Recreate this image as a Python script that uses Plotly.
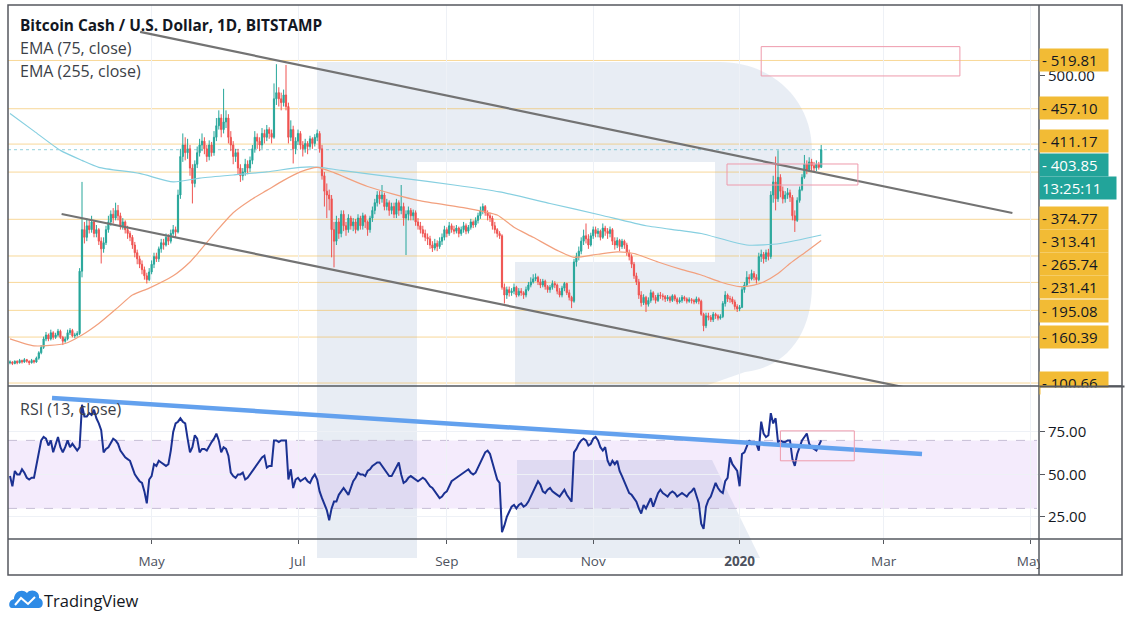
import pandas as pd
import plotly.graph_objects as go

FONT = "Open Sans"
GREEN = "#26a69a"
RED = "#ef5350"
YELLOW = "#f2bb35"

# ---------------- data ----------------
start_date = "2019-03-03"
first_open = 127.0
closes = [
    128,126,129,127,130,128,131,129,127,130,
    128,133,140,147,158,163,158,166,160,163,
    168,160,155,158,166,169,162,163,165,246,
    300,290,305,300,310,295,300,285,275,283,
    300,310,320,315,325,318,305,310,300,295,
    290,280,270,262,255,248,240,235,245,255,
    265,262,275,283,280,290,285,295,300,297,
    345,395,410,400,405,380,360,385,400,410,
    415,405,395,410,400,420,435,445,430,440,
    445,420,410,395,400,380,370,375,385,380,
    390,405,420,415,410,425,420,430,425,420,
    470,478,470,465,475,460,420,430,405,415,
    425,410,405,412,408,418,412,420,425,405,
    370,350,345,340,300,285,310,295,320,305,
    300,315,305,310,300,315,305,318,310,300,
    315,325,335,345,340,345,330,335,325,330,
    320,335,325,330,315,320,325,318,322,310,
    305,300,295,290,288,280,276,282,278,285,
    290,300,295,305,300,298,302,295,300,305,
    298,303,310,306,312,318,325,330,322,318,
    315,305,300,295,292,225,215,222,218,220,
    225,215,220,218,215,222,228,232,236,238,
    232,228,233,226,222,225,230,228,220,215,
    224,230,218,212,207,258,265,272,285,292,
    288,280,292,300,295,298,290,302,298,295,
    300,285,280,286,278,285,280,270,265,255,
    240,232,215,205,212,203,208,218,212,208,
    215,214,213,210,212,208,214,210,206,208,
    212,210,207,209,208,206,210,207,190,175,
    188,186,183,190,188,185,187,204,215,210,
    210,206,200,197,199,222,228,238,236,243,
    238,235,265,268,262,270,265,345,362,340,
    368,350,340,345,348,342,318,312,338,352,
    368,385,378,388,383,380,385,381,403.85,
]
highs = [
    130,129,130,130,132,131,133,132,130,132,
    131,135,142,150,161,167,165,170,168,166,
    171,170,162,161,170,172,171,166,168,250,
    362,310,315,312,318,312,306,302,290,290,
    305,318,325,328,335,332,322,315,312,305,
    298,293,284,274,266,260,252,244,250,260,
    270,270,278,288,288,295,294,300,306,304,
    352,405,425,420,418,410,385,390,408,418,
    425,420,410,416,414,428,445,455,450,483,
    455,450,428,415,405,405,385,380,392,390,
    395,410,428,425,420,432,430,436,433,430,
    490,515,485,478,482,514,465,442,435,420,
    430,428,415,418,415,422,420,424,430,428,
    410,375,360,352,345,310,318,315,325,325,
    310,320,318,315,314,320,318,322,320,312,
    318,330,340,350,350,358,348,340,338,335,
    335,340,338,358,335,325,330,328,326,325,
    315,310,305,300,295,292,285,288,286,290,
    295,305,303,310,308,305,306,304,304,310,
    308,306,314,312,316,322,330,334,332,325,
    322,318,310,302,298,294,230,226,226,224,
    230,227,224,224,220,226,232,238,242,243,
    240,236,236,235,228,228,234,233,230,224,
    227,232,231,222,214,262,270,278,290,300,
    308,294,296,304,304,302,300,308,305,302,
    304,302,290,290,288,288,287,283,274,268,
    258,244,236,220,216,214,212,222,220,215,
    218,219,217,215,215,214,216,216,212,212,
    215,214,212,212,211,210,213,212,209,192,
    192,192,189,193,192,190,190,207,220,217,
    214,213,209,203,202,226,232,246,242,248,
    246,242,270,274,271,274,275,350,370,395,
    403,372,356,350,354,352,345,325,342,356,
    372,397,390,394,392,388,390,388,410,
]
lows = [
    125,124,125,125,126,126,127,127,124,126,
    126,127,131,138,145,155,155,156,157,158,
    161,158,150,153,156,163,160,159,161,163,
    238,282,285,295,296,290,290,280,256,270,
    280,296,305,308,312,312,300,300,295,288,
    285,275,264,255,250,242,235,230,233,242,
    250,258,258,270,274,278,280,282,292,290,
    295,340,388,390,392,370,334,355,380,395,
    402,398,388,390,395,396,415,430,420,425,
    432,412,402,385,388,372,362,364,370,372,
    375,385,400,405,402,405,412,415,418,412,
    418,462,460,455,460,455,412,415,386,398,
    410,404,395,400,398,405,405,408,415,400,
    365,330,315,325,264,251,280,288,290,298,
    292,296,300,298,295,298,300,300,302,292,
    296,310,320,330,333,335,325,325,318,320,
    315,315,318,320,305,267,312,312,312,305,
    300,295,290,285,280,275,271,273,272,275,
    280,286,290,292,296,294,295,290,292,296,
    294,295,300,302,303,308,314,320,318,312,
    310,300,295,290,288,222,204,210,213,214,
    216,212,213,214,210,212,220,225,230,233,
    228,224,225,222,218,218,222,224,216,212,
    212,220,215,208,198,205,252,260,268,280,
    282,275,278,288,290,290,286,288,292,288,
    290,280,274,276,272,275,275,266,260,250,
    236,228,210,200,202,193,200,205,208,204,
    206,210,208,206,207,205,206,207,203,204,
    205,207,204,205,204,203,204,203,188,168,
    172,182,180,180,184,182,183,185,200,206,
    205,203,196,193,194,198,218,226,230,234,
    234,230,233,258,256,258,260,262,335,325,
    336,342,334,335,340,336,312,297,310,335,
    350,366,372,375,375,376,376,378,380,
]
rsi_values = [
    49,43,52,50,50,53,51,48,47,48,
    48,55,64,70,72,71,67,70,63,67,
    72,66,63,66,70,66,68,66,64,66,
    91,84,84,86,85,88,83,80,76,63,
    65,66,69,71,70,68,64,62,60,59,
    58,54,50,48,46,45,40,33,47,49,
    56,55,58,57,56,55,56,64,75,80,
    81,83,81,80,71,63,66,73,71,63,
    65,65,64,67,69,71,74,70,63,66,
    65,61,51,49,48,50,50,51,47,48,
    50,52,54,56,58,60,61,54,55,55,
    70,70,69,70,70,70,47,53,42,47,
    48,46,47,48,46,45,48,50,47,40,
    36,32,29,23,30,34,34,38,40,42,
    40,38,42,46,48,51,50,50,49,52,
    53,55,56,57,57,55,53,51,49,49,
    52,55,57,50,45,46,48,49,48,47,
    46,47,48,47,45,43,42,40,38,36,
    37,39,40,43,46,47,48,49,50,51,
    52,53,51,50,51,54,57,60,63,64,
    62,57,52,47,45,16,20,25,28,31,
    32,30,32,33,31,32,34,37,40,42,
    46,44,40,39,41,42,40,39,38,37,
    39,41,38,36,34,63,65,68,70,71,
    70,67,68,71,72,70,66,64,66,58,
    55,58,56,58,52,49,46,42,39,38,
    36,34,30,27,32,30,33,36,31,35,
    39,41,39,38,37,39,40,39,37,38,
    39,38,37,39,40,42,38,33,21,18,
    31,35,37,41,45,42,40,39,46,48,
    60,56,54,52,43,62,63,66,70,68,
    69,68,64,81,74,72,73,86,80,83,
    69,70,69,69,70,70,59,55,62,66,
    70,72,74,68,66,65,64,67,70,
]
assert len(closes) == len(highs) == len(lows) == len(rsi_values)

ema75_dates = ["2019-03-03","2019-03-13","2019-03-26","2019-04-02","2019-04-09","2019-04-17",
               "2019-04-23","2019-04-30","2019-05-10","2019-05-17","2019-05-21","2019-05-28",
               "2019-06-04","2019-06-11","2019-06-18","2019-06-25","2019-07-02","2019-07-09",
               "2019-07-16","2019-07-30","2019-08-20","2019-09-09","2019-09-22","2019-09-29",
               "2019-10-07","2019-10-17","2019-10-24","2019-11-03","2019-11-11","2019-11-18",
               "2019-11-28","2019-12-08","2019-12-16","2019-12-24","2020-01-01","2020-01-07",
               "2020-01-11","2020-01-17","2020-01-22","2020-01-29","2020-02-04"]
ema75_values = [158,149,152,163,178,199,215,224,240,258,272,298,322,338,351,364,375,381,
                374,356,338,328,319,303,290,273,264,268,271,269,258,248,241,232,226,228,
                232,243,256,272,286]
ema255_dates = ["2019-03-03","2019-03-13","2019-03-24","2019-04-02","2019-04-09","2019-04-26",
                "2019-05-10","2019-05-21","2019-06-04","2019-06-18","2019-07-02","2019-07-10",
                "2019-07-19","2019-08-13","2019-09-04","2019-09-23","2019-10-14","2019-11-04",
                "2019-11-23","2019-12-07","2019-12-16","2020-01-04","2020-01-18","2020-02-04"]
ema255_values = [451,428,403,390,381,373,362,367,371,375,381,381,377,367,358,349,334,319,
                 305,299,295,280,282,293]

level_values = [519.81, 457.10, 411.17, 374.77, 313.41, 265.74, 231.41, 195.08, 160.39, 100.66]
level_label_shift = [0, 1, 3, -46, -22, -8, -5, -1, 0, 0]
last_price = 403.85
countdown = "13:25:11"

upper_channel_dates = ["2019-04-26 05:00", "2020-04-23 16:00"]
upper_channel_prices = [557.0, 321.6]
lower_channel_dates = ["2019-03-24 12:00", "2020-03-21 05:00"]
lower_channel_prices = [320.3, 87.7]
rsi_trend_dates = ["2019-03-20 12:00", "2020-03-17 00:00"]
rsi_trend_values = [95.0, 62.0]

zone_x0 = ["2020-01-10", "2019-12-26 18:00"]
zone_x1 = ["2020-04-01 19:00", "2020-02-19 07:00"]
zone_y0 = [499.7, 358.0]
zone_y1 = [537.8, 385.3]
rsi_zone = ["2020-01-18", "2020-02-17 19:00", 58.0, 75.6]

x_tickvals = ["2019-05-01","2019-07-01","2019-09-01","2019-11-01","2020-01-01","2020-03-01","2020-05-01"]
x_ticktext = ["May","Jul","Sep","Nov","<b>2020</b>","Mar","May"]
x_range = ["2019-03-02 04:00", "2020-05-04 18:00"]

dates = pd.date_range(start_date, periods=len(closes), freq="D")
opens = [first_open] + closes[:-1]

# ---------------- geometry helpers (pixel -> paper) ----------------
W, H = 1131, 623
PL, PR, PT, PB = 8, 1039, 5, 539
SPLIT = 386
def fx(x): return (x - PL) / (PR - PL)
def fy(y): return (PB - y) / (PB - PT)
def path(points):
    s = ""
    for cmd, pts in points:
        s += cmd + " " + " ".join(f"{fx(a):.5f},{fy(b):.5f}" for a, b in pts) + " "
    return s + "Z"

fig = go.Figure()

fig.add_trace(go.Candlestick(
    x=dates, open=opens, high=highs, low=lows, close=closes,
    increasing=dict(line=dict(color=GREEN, width=1), fillcolor=GREEN),
    decreasing=dict(line=dict(color=RED, width=1), fillcolor=RED),
    whiskerwidth=0, xaxis="x", yaxis="y", showlegend=False, hoverinfo="skip"))
fig.add_trace(go.Scatter(x=ema255_dates, y=ema255_values, mode="lines",
    line=dict(color="#86cfe0", width=1.2, shape="spline", smoothing=0.6),
    xaxis="x", yaxis="y", showlegend=False, hoverinfo="skip"))
fig.add_trace(go.Scatter(x=ema75_dates, y=ema75_values, mode="lines",
    line=dict(color="#f2a07e", width=1.2, shape="spline", smoothing=0.6),
    xaxis="x", yaxis="y", showlegend=False, hoverinfo="skip"))
for dx, dy in ((upper_channel_dates, upper_channel_prices), (lower_channel_dates, lower_channel_prices)):
    fig.add_trace(go.Scatter(x=dx, y=dy, mode="lines", line=dict(color="#737373", width=2.2),
                             xaxis="x", yaxis="y", showlegend=False, hoverinfo="skip"))

fig.add_trace(go.Scatter(x=dates, y=rsi_values, mode="lines",
    line=dict(color="#1b3192", width=2), xaxis="x2", yaxis="y2",
    showlegend=False, hoverinfo="skip"))
fig.add_trace(go.Scatter(x=rsi_trend_dates, y=rsi_trend_values, mode="lines",
    line=dict(color="#63a1ee", width=4.5), xaxis="x2", yaxis="y2",
    showlegend=False, hoverinfo="skip"))

shapes = []
# watermark "R"
wm = "rgba(185,200,222,0.33)"
shapes.append(dict(type="path", xref="paper", yref="paper", layer="below", fillcolor=wm, line=dict(width=0),
    path=path([("M", [(317, 62)]), ("L", [(720, 62)]), ("C", [(772, 62), (812, 100), (812, 150)]),
               ("L", [(812, 285)]), ("C", [(812, 335), (785, 368), (745, 372)]), ("L", [(705, 386)]),
               ("L", [(515, 386)]), ("L", [(515, 262)]), ("L", [(715, 262)]), ("L", [(715, 162)]),
               ("L", [(417, 162)]), ("L", [(417, 386)]), ("L", [(317, 386)])])))
shapes.append(dict(type="path", xref="paper", yref="paper", layer="below", fillcolor=wm, line=dict(width=0),
    path=path([("M", [(317, 386)]), ("L", [(417, 386)]), ("L", [(417, 558)]), ("L", [(317, 558)])])))
shapes.append(dict(type="path", xref="paper", yref="paper", layer="below", fillcolor=wm, line=dict(width=0),
    path=path([("M", [(517, 460)]), ("L", [(712, 460)]), ("L", [(760, 558)]), ("L", [(517, 558)])])))

# RSI band
shapes.append(dict(type="rect", xref="paper", yref="y2", x0=0, x1=fx(1037), y0=30, y1=70,
                   fillcolor="rgba(150,60,230,0.10)", line=dict(width=0), layer="below"))
for v in (30, 70):
    shapes.append(dict(type="line", xref="paper", yref="y2", x0=0, x1=fx(1037), y0=v, y1=v,
                       line=dict(color="#c6bfd6", width=1, dash="dash"), layer="below"))
# horizontal levels
for v in level_values:
    shapes.append(dict(type="line", xref="paper", yref="y", x0=0, x1=1, y0=v, y1=v,
                       line=dict(color="rgba(243,184,70,0.55)", width=1), layer="below"))
shapes.append(dict(type="line", xref="paper", yref="y", x0=0, x1=1, y0=last_price, y1=last_price,
                   line=dict(color="rgba(60,170,190,0.55)", width=1, dash="dot"), layer="below"))
# zone boxes
for a, b, c, d in zip(zone_x0, zone_x1, zone_y0, zone_y1):
    shapes.append(dict(type="rect", xref="x", yref="y", x0=a, x1=b, y0=c, y1=d,
                       line=dict(color="#ee9aac", width=1), fillcolor="rgba(0,0,0,0)"))
shapes.append(dict(type="rect", xref="x2", yref="y2", x0=rsi_zone[0], x1=rsi_zone[1],
                   y0=rsi_zone[2], y1=rsi_zone[3], line=dict(color="#ee9aac", width=1),
                   fillcolor="rgba(0,0,0,0)"))
# frame / separators
FR = "#55585f"
shapes.append(dict(type="rect", xref="paper", yref="paper", x0=fx(1040), x1=fx(1121), y0=fy(574), y1=fy(540),
                   fillcolor="white", line=dict(width=0), layer="above"))
shapes.append(dict(type="rect", xref="paper", yref="paper", x0=fx(8), x1=fx(1122), y0=fy(575), y1=fy(5),
                   line=dict(color=FR, width=1.5), layer="above"))
shapes.append(dict(type="line", xref="paper", yref="paper", x0=fx(1039), x1=fx(1039), y0=fy(575), y1=fy(5),
                   line=dict(color=FR, width=1.5), layer="above"))
shapes.append(dict(type="line", xref="paper", yref="paper", x0=fx(8), x1=fx(1122), y0=fy(SPLIT), y1=fy(SPLIT),
                   line=dict(color=FR, width=1.5), layer="above"))
shapes.append(dict(type="line", xref="paper", yref="paper", x0=fx(8), x1=fx(1122), y0=fy(539), y1=fy(539),
                   line=dict(color=FR, width=1.5), layer="above"))
# TradingView logo
shapes.append(dict(type="path", xref="paper", yref="paper", fillcolor="#2e8be6", line=dict(width=0),
    path=path([("M", [(12, 608)]), ("C", [(8, 608), (8, 600), (14, 599)]),
               ("C", [(14, 592), (22, 588), (27, 593)]), ("C", [(31, 588), (40, 591), (39, 598)]),
               ("C", [(44, 599), (44, 608), (39, 608)])])))
shapes.append(dict(type="path", xref="paper", yref="paper", line=dict(color="white", width=2),
    path=f"M {fx(15):.5f},{fy(605):.5f} L {fx(21):.5f},{fy(598):.5f} L {fx(28):.5f},{fy(604):.5f} L {fx(35):.5f},{fy(597):.5f}"))

ann = []
def txt(x, y, s, size=14, color="#131722", bold=False):
    ann.append(dict(xref="paper", yref="paper", x=fx(x), y=fy(y), xanchor="left", yanchor="middle",
                    text=f"<b>{s}</b>" if bold else s, showarrow=False,
                    font=dict(family=FONT, size=size, color=color)))
txt(18, 26, "Bitcoin Cash / U.S. Dollar, 1D, BITSTAMP", 15.4, "#131722", True)
txt(18, 48, "EMA (75, close)", 16, "#3c3f47")
txt(18, 71, "EMA (255, close)", 16, "#3c3f47")
txt(18, 409, "RSI (13, close)", 16, "#3c3f47")
txt(42, 600, "TradingView", 16.5, "#131722")

def price_label(v, s, shift, bg, fg, width=64):
    ann.append(dict(xref="paper", x=1, xanchor="left", yref="y", y=v, yanchor="middle", yshift=shift,
                    text=s, showarrow=False, bgcolor=bg, width=width, height=18, align="left",
                    borderpad=2, font=dict(family=FONT, size=15, color=fg)))
for v, sft in zip(level_values, level_label_shift):
    price_label(v, f"- {v:.2f}", sft, YELLOW, "#131722")
price_label(last_price, f"- {last_price:.2f}", -15, "#22a49a", "white")
price_label(last_price, f"{countdown}", -38, "#22a49a", "white", width=72)
# clip of the lowest label at the pane separator
ann.append(dict(xref="paper", x=fx(1040), xanchor="left", yref="paper", y=fy(386.6), yanchor="top",
                text=" ", showarrow=False, bgcolor="white", width=76, height=10, borderpad=0,
                font=dict(size=6)))
ann.append(dict(xref="paper", x=fx(1039), xanchor="left", yref="paper", y=fy(386), yanchor="middle",
                text=" ", showarrow=False, bgcolor=FR, width=84, height=1, borderpad=0,
                font=dict(size=1)))

fig.update_layout(
    width=W, height=H, autosize=False,
    margin=dict(l=PL, r=W - PR, t=PT, b=H - PB),
    paper_bgcolor="white", plot_bgcolor="rgba(0,0,0,0)",
    font=dict(family=FONT, color="#131722"),
    showlegend=False, shapes=shapes, annotations=ann,
    xaxis=dict(domain=[0, 1], anchor="y", range=x_range, type="date", rangeslider=dict(visible=False),
               showticklabels=False, tickvals=x_tickvals, showgrid=True, gridcolor="#eef1f6",
               zeroline=False, showline=False, ticks=""),
    xaxis2=dict(domain=[0, 1], anchor="y2", matches="x", range=x_range, type="date",
                tickvals=x_tickvals, ticktext=x_ticktext, ticks="outside", ticklen=4, tickcolor=FR,
                tickfont=dict(family=FONT, size=13.5, color="#4c525e"), ticklabelstandoff=6,
                showgrid=True, gridcolor="#eef1f6", zeroline=False, showline=False),
    yaxis=dict(domain=[fy(SPLIT), 1], anchor="x", side="right", range=[96.8, 591.9],
               tickvals=[500], ticktext=["500.00"], ticks="outside", ticklen=5, tickcolor=FR,
               tickfont=dict(family=FONT, size=15, color="#131722"), showgrid=False,
               zeroline=False, showline=False),
    yaxis2=dict(domain=[0, fy(SPLIT)], anchor="x2", side="right", range=[12, 102],
                tickvals=[25, 50, 75], ticktext=["25.00", "50.00", "75.00"], ticks="outside",
                ticklen=5, tickcolor=FR, tickfont=dict(family=FONT, size=15, color="#131722"),
                showgrid=True, gridcolor="#eef1f6", zeroline=False, showline=False),
)

fig.write_html("out.html", config={"displayModeBar": False},
               post_script="document.body.style.margin='0';document.body.style.padding='0';")
